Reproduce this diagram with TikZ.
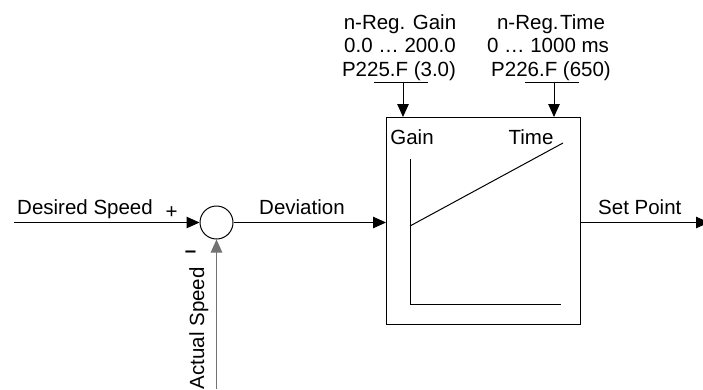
\documentclass[tikz,border=0pt]{standalone}
\usepackage{fontspec}
\setmainfont{Liberation Sans}
\usetikzlibrary{arrows.meta}
\begin{document}
\begin{tikzpicture}[x=1pt,y=-1pt,
  lbl/.style={inner sep=0pt,font=\fontsize{20.5}{23.5}\selectfont},
  wire/.style={line width=1pt,black},
  arr/.style={wire,-{Triangle[length=13pt,width=11.5pt]}},
  frame/.style={draw,line width=1pt,minimum width=194pt,minimum height=207pt,inner sep=0pt,anchor=north west},
  sumpt/.style={draw,circle,line width=1pt,minimum size=33pt,inner sep=0pt}]
\useasboundingbox (0,0) rectangle (703,389);
\clip (0,0) rectangle (703,389);
% block
\node[frame] (blk) at (386,117) {};
\node[sumpt] (sum) at (216.5,222.5) {};
% inner characteristic
\coordinate (ax0) at (410,159);
\coordinate (ax1) at (410,304);
\coordinate (ax2) at (561,304);
\coordinate (d0) at (410,226);
\coordinate (d1) at (563,143);
\draw[wire] (ax0) -- (ax1) -- (ax2);
\draw[wire] (d0) -- (d1);
\node[lbl,anchor=base] (gain) at (412,144) {Gain};
\node[lbl,anchor=base] (time) at (531,144) {Time};
% parameter texts
\node[lbl,anchor=base] (g1) at (400,29) {n-Reg. Gain};
\node[lbl,anchor=base] (g2) at (400,52.5) {0.0 … 200.0};
\node[lbl,anchor=base] (g3) at (399,76) {P225.F (3.0)};
\node[lbl,anchor=base] (t1) at (551,29) {n-Reg.\kern1.5pt Time};
\node[lbl,anchor=base] (t2) at (548,52.5) {0 … 1000 ms};
\node[lbl,anchor=base] (t3) at (551,76) {P226.F (650)};
\coordinate (gl0) at (374,82);
\coordinate (gl1) at (428,82);
\coordinate (gs) at (403,82);
\coordinate (tl0) at (525,82);
\coordinate (tl1) at (579,82);
\coordinate (ts) at (554,82);
\draw[wire] (gl0) -- (gl1);
\draw[wire] (tl0) -- (tl1);
\draw[arr] (gs) -- (gs |- blk.north);
\draw[arr] (ts) -- (ts |- blk.north);
% signal path
\coordinate (in) at (14,222.5);
\coordinate (out) at (709,222.5);
\coordinate (fb) at (216.5,389);
\draw[arr] (in) -- (sum.west);
\draw[arr] (sum.east) -- (sum.east -| blk.west);
\draw[arr] (blk.east |- out) -- (out);
\draw[line width=1pt,black!55,-{Triangle[length=13pt,width=11.5pt]}] (fb) -- (sum.south);
% labels
\node[lbl,anchor=base west] (ds) at (17,214) {Desired Speed};
\node[lbl,anchor=base] (plus) at (171.5,218.5) {+};
\node[lbl,anchor=base] (minus) at (190.5,257) {\textbf{–}};
\node[lbl,anchor=base west] (dev) at (259,214) {Deviation};
\node[lbl,anchor=base west] (sp) at (598,214) {Set Point};
\node[lbl,anchor=base east,rotate=90] (as) at (204,267) {Actual Speed};
\end{tikzpicture}
\end{document}
